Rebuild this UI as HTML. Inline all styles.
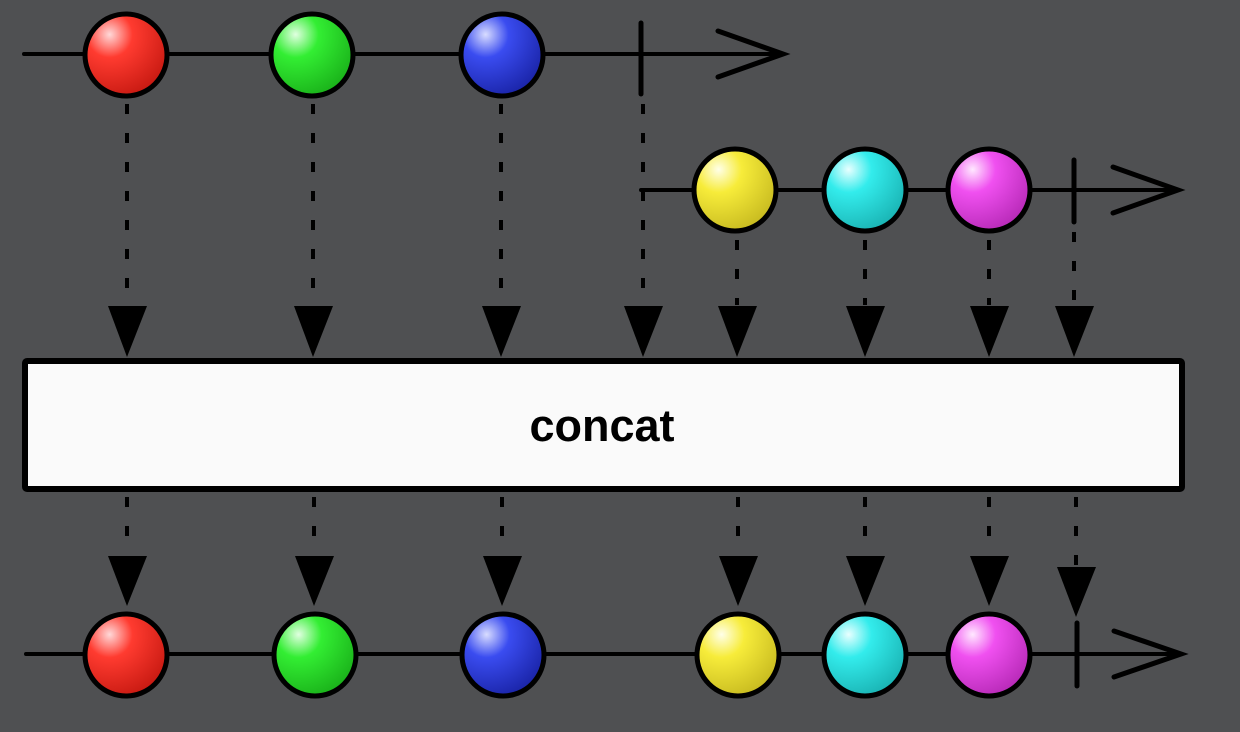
<!DOCTYPE html>
<html><head><meta charset="utf-8"><style>
html,body{margin:0;padding:0;background:#4f5052;}
svg{display:block}
</style></head><body>
<svg width="1240" height="732" viewBox="0 0 1240 732" xmlns="http://www.w3.org/2000/svg">
<defs>
<radialGradient id="gr" cx="0.3" cy="0.25" r="0.8"><stop offset="0" stop-color="#ffd8d8"/><stop offset="0.35" stop-color="#ff3b30"/><stop offset="1" stop-color="#c81a12"/></radialGradient>
<radialGradient id="gg" cx="0.3" cy="0.25" r="0.8"><stop offset="0" stop-color="#e0ffe0"/><stop offset="0.35" stop-color="#33ee33"/><stop offset="1" stop-color="#1ab21a"/></radialGradient>
<radialGradient id="gb" cx="0.3" cy="0.25" r="0.8"><stop offset="0" stop-color="#d8dcff"/><stop offset="0.35" stop-color="#3a4cf0"/><stop offset="1" stop-color="#1a24a8"/></radialGradient>
<radialGradient id="gy" cx="0.3" cy="0.25" r="0.8"><stop offset="0" stop-color="#ffffe8"/><stop offset="0.35" stop-color="#f7ec3a"/><stop offset="1" stop-color="#c8bb20"/></radialGradient>
<radialGradient id="gc" cx="0.3" cy="0.25" r="0.8"><stop offset="0" stop-color="#e8ffff"/><stop offset="0.35" stop-color="#33ecec"/><stop offset="1" stop-color="#1ab4b4"/></radialGradient>
<radialGradient id="gm" cx="0.3" cy="0.25" r="0.8"><stop offset="0" stop-color="#ffe8ff"/><stop offset="0.35" stop-color="#f050f0"/><stop offset="1" stop-color="#b82ab8"/></radialGradient>
</defs>
<g stroke="#000" stroke-width="4" stroke-linecap="round" fill="none">
<!-- top line -->
<line x1="24" y1="54" x2="783" y2="54"/>
<polyline points="718,31 783,54 718,77" stroke-width="5"/>
<line x1="641" y1="23" x2="641" y2="94" stroke-width="5"/>
<!-- second line -->
<line x1="641" y1="190" x2="1178" y2="190"/>
<polyline points="1113,167 1178,190 1113,213" stroke-width="5"/>
<line x1="1074" y1="160" x2="1074" y2="222" stroke-width="5"/>
<!-- bottom line -->
<line x1="26" y1="654" x2="1181" y2="654"/>
<polyline points="1114,631 1181,654 1114,677" stroke-width="5"/>
<line x1="1077" y1="623" x2="1077" y2="686" stroke-width="5"/>
</g>
<g stroke="#000" stroke-width="4" stroke-dasharray="10 19" fill="none">
<line x1="127" y1="104" x2="127" y2="305"/>
<line x1="313" y1="104" x2="313" y2="305"/>
<line x1="501" y1="104" x2="501" y2="305"/>
<line x1="643" y1="104" x2="643" y2="305"/>
<line x1="737" y1="240" x2="737" y2="305"/>
<line x1="865" y1="240" x2="865" y2="305"/>
<line x1="989" y1="240" x2="989" y2="305"/>
<line x1="1074" y1="232" x2="1074" y2="305"/>
<line x1="127" y1="497" x2="127" y2="555"/>
<line x1="314" y1="497" x2="314" y2="555"/>
<line x1="502" y1="497" x2="502" y2="555"/>
<line x1="738" y1="497" x2="738" y2="555"/>
<line x1="865" y1="497" x2="865" y2="555"/>
<line x1="989" y1="497" x2="989" y2="555"/>
<line x1="1076" y1="497" x2="1076" y2="565"/>
</g>
<g fill="#000">
<polygon points="108,306 147,306 127,357"/>
<polygon points="294,306 333,306 313,357"/>
<polygon points="482,306 521,306 501,357"/>
<polygon points="624,306 663,306 643,357"/>
<polygon points="718,306 757,306 737,357"/>
<polygon points="846,306 885,306 865,357"/>
<polygon points="970,306 1009,306 989,357"/>
<polygon points="1055,306 1094,306 1074,357"/>
<polygon points="108,556 147,556 127,606"/>
<polygon points="295,556 334,556 314,606"/>
<polygon points="483,556 522,556 502,606"/>
<polygon points="719,556 758,556 738,606"/>
<polygon points="846,556 885,556 865,606"/>
<polygon points="970,556 1009,556 989,606"/>
<polygon points="1057,567 1096,567 1076,617"/>
</g>
<rect x="25" y="361" width="1157" height="128" fill="#fafafa" stroke="#000" stroke-width="6" rx="2"/>
<text x="602" y="441" text-anchor="middle" font-family="Liberation Sans, sans-serif" font-weight="bold" font-size="45" fill="#000">concat</text>
<g stroke="#000" stroke-width="5">
<circle cx="126" cy="55" r="41" fill="url(#gr)"/>
<circle cx="312" cy="55" r="41" fill="url(#gg)"/>
<circle cx="502" cy="55" r="41" fill="url(#gb)"/>
<circle cx="735" cy="190" r="41" fill="url(#gy)"/>
<circle cx="865" cy="190" r="41" fill="url(#gc)"/>
<circle cx="989" cy="190" r="41" fill="url(#gm)"/>
<circle cx="126" cy="655" r="41" fill="url(#gr)"/>
<circle cx="315" cy="655" r="41" fill="url(#gg)"/>
<circle cx="503" cy="655" r="41" fill="url(#gb)"/>
<circle cx="738" cy="655" r="41" fill="url(#gy)"/>
<circle cx="865" cy="655" r="41" fill="url(#gc)"/>
<circle cx="989" cy="655" r="41" fill="url(#gm)"/>
</g>
</svg>
</body></html>
